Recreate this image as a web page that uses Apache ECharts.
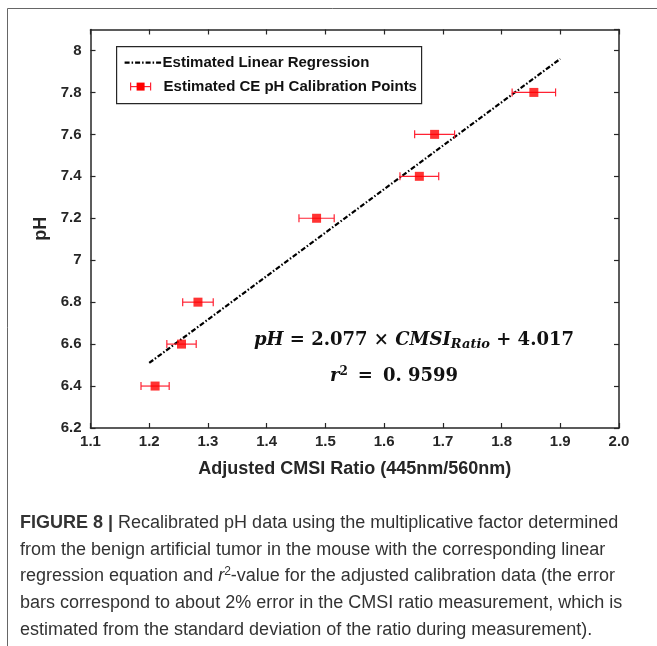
<!DOCTYPE html>
<html>
<head>
<meta charset="utf-8">
<script src="https://cdn.jsdelivr.net/npm/echarts@6/dist/echarts.min.js"></script>
<style>
  html, body { margin: 0; padding: 0; background: #fff; }
  #main { width: 657px; height: 646px; }
</style>
</head>
<body>
<div id="main"></div>
<script>
// 校准点数据
var ratioValues = [1.21, 1.255, 1.283, 1.485, 1.66, 1.686, 1.855];
var phValues = [6.4, 6.6, 6.8, 7.2, 7.4, 7.6, 7.8];
// 2% 误差
var ratioErrors = [0.024, 0.025, 0.026, 0.030, 0.033, 0.034, 0.037];
// 回归线端点
var lineX = [1.2, 1.9];
var lineY = [6.51, 7.96];

var captionLines = [
    'Recalibrated pH data using the multiplicative factor determined',
    'from the benign artificial tumor in the mouse with the corresponding linear',
    'regression equation and ',
    'bars correspond to about 2% error in the CMSI ratio measurement, which is',
    'estimated from the standard deviation of the ratio during measurement).'
];

(function () {
    var chart = echarts.init(document.getElementById('main'));
    var axisColor = '#262626';
    var red = '#ff0000';
    var capFont = '18px "Liberation Sans"';
    var eqFont = '"DejaVu Serif"';

    var pointData = [];
    var errData = [];
    ratioValues.forEach(function (v, i) {
        pointData.push([v, phValues[i]]);
        errData.push([v - ratioErrors[i], v + ratioErrors[i], phValues[i]]);
    });

    // 误差棒
    function renderErr(params, api) {
        var p1 = api.coord([api.value(0), api.value(2)]);
        var p2 = api.coord([api.value(1), api.value(2)]);
        var h = 4;
        var st = { stroke: '#f23', lineWidth: 1.2 };
        return {
            type: 'group',
            children: [
                { type: 'line', shape: { x1: p1[0], y1: p1[1], x2: p2[0], y2: p2[1] }, style: st },
                { type: 'line', shape: { x1: p1[0], y1: p1[1] - h, x2: p1[0], y2: p1[1] + h }, style: st },
                { type: 'line', shape: { x1: p2[0], y1: p2[1] - h, x2: p2[0], y2: p2[1] + h }, style: st }
            ]
        };
    }

    var labelFont = { color: axisColor, fontFamily: 'Liberation Sans', fontWeight: 'bold', fontSize: 15 };
    var nameFont = { color: axisColor, fontFamily: 'Liberation Sans', fontWeight: 'bold', fontSize: 18 };

    var option = {
        animation: false,
        backgroundColor: '#fff',
        grid: { left: 90.5, right: 38, top: 29.5, bottom: 218 },
        xAxis: [{
            type: 'value', min: 1.1, max: 2.0, interval: 0.1,
            position: 'bottom',
            name: 'Adjusted CMSI Ratio (445nm/560nm)',
            nameLocation: 'middle', nameGap: 32,
            nameTextStyle: nameFont,
            axisLine: { lineStyle: { color: axisColor, width: 1.5 } },
            axisTick: { inside: true, length: 5, lineStyle: { color: axisColor, width: 1.2 } },
            axisLabel: Object.assign({ margin: 6, formatter: function (v) { return v.toFixed(1); } }, labelFont),
            splitLine: { show: false }
        }, {
            type: 'value', min: 1.1, max: 2.0, interval: 0.1,
            position: 'top',
            axisLine: { lineStyle: { color: axisColor, width: 1.5 } },
            axisTick: { inside: true, length: 5, lineStyle: { color: axisColor, width: 1.2 } },
            axisLabel: { show: false },
            splitLine: { show: false }
        }],
        yAxis: [{
            type: 'value', min: 6.2, max: 8.1, interval: 0.2,
            position: 'left',
            name: 'pH', nameLocation: 'middle', nameGap: 40, nameRotate: 90,
            nameTextStyle: nameFont,
            axisLine: { lineStyle: { color: axisColor, width: 1.5 } },
            axisTick: { inside: true, length: 5, lineStyle: { color: axisColor, width: 1.2 } },
            axisLabel: Object.assign({ margin: 9, showMaxLabel: false }, labelFont),
            splitLine: { show: false }
        }, {
            type: 'value', min: 6.2, max: 8.1, interval: 0.2,
            position: 'right',
            axisLine: { lineStyle: { color: axisColor, width: 1.5 } },
            axisTick: { inside: true, length: 5, lineStyle: { color: axisColor, width: 1.2 } },
            axisLabel: { show: false },
            splitLine: { show: false }
        }],
        series: [{
            name: 'Estimated Linear Regression',
            type: 'line',
            data: [[lineX[0], lineY[0]], [lineX[1], lineY[1]]],
            symbol: 'none',
            lineStyle: { color: '#000', width: 2.2, type: [5, 2, 1.5, 2] },
            z: 2
        }, {
            name: 'err',
            type: 'custom',
            renderItem: renderErr,
            data: errData,
            encode: { x: [0, 1], y: 2 },
            z: 3
        }, {
            name: 'Estimated CE pH Calibration Points',
            type: 'scatter',
            data: pointData,
            symbol: 'rect',
            symbolSize: 9,
            itemStyle: { color: red },
            z: 4
        }],
        graphic: [
            // 外框
            { type: 'rect', shape: { x: 7.5, y: 8.5, width: 660, height: 660 }, style: { fill: 'none', stroke: '#666', lineWidth: 1 }, silent: true },
            // 图例
            {
                type: 'group', left: 116, top: 46,
                children: [
                    { type: 'rect', shape: { x: 0, y: 0, width: 305, height: 57 }, style: { fill: '#fff', stroke: axisColor, lineWidth: 1.2 } },
                    { type: 'line', shape: { x1: 8, y1: 16, x2: 45, y2: 16 }, style: { stroke: '#000', lineWidth: 2.2, lineDash: [5, 2, 1.5, 2] } },
                    { type: 'text', x: 46, y: 16, style: { text: 'Estimated Linear Regression', fill: '#111', font: 'bold 15px "Liberation Sans"', verticalAlign: 'middle' } },
                    { type: 'line', shape: { x1: 14, y1: 40, x2: 34, y2: 40 }, style: { stroke: '#f23', lineWidth: 1.2 } },
                    { type: 'line', shape: { x1: 14, y1: 36, x2: 14, y2: 44 }, style: { stroke: '#f23', lineWidth: 1.2 } },
                    { type: 'line', shape: { x1: 34, y1: 36, x2: 34, y2: 44 }, style: { stroke: '#f23', lineWidth: 1.2 } },
                    { type: 'rect', shape: { x: 20, y: 36, width: 8, height: 8 }, style: { fill: red } },
                    { type: 'text', x: 47, y: 40, style: { text: 'Estimated CE pH Calibration Points', fill: '#111', font: 'bold 15px "Liberation Sans"', verticalAlign: 'middle' } }
                ]
            },
            // 回归方程
            {
                type: 'text', x: 414, y: 340,
                style: {
                    text: '{i|pH} = 2.077 × {i|CMSI}{s|Ratio} + 4.017',
                    align: 'center', verticalAlign: 'middle',
                    font: 'bold 18px ' + eqFont, fill: '#111',
                    rich: {
                        i: { font: 'italic bold 18px ' + eqFont, fill: '#111' },
                        s: { font: 'italic bold 13px ' + eqFont, fill: '#111', padding: [9, 0, 0, 0] }
                    }
                }
            },
            {
                type: 'text', x: 394, y: 376,
                style: {
                    text: '{i|r}{p|2}{e|=}0. 9599',
                    align: 'center', verticalAlign: 'middle',
                    font: 'bold 18px ' + eqFont, fill: '#111',
                    rich: {
                        i: { font: 'italic bold 18px ' + eqFont, fill: '#111' },
                        p: { font: 'bold 12px ' + eqFont, fill: '#111', padding: [0, 0, 9, 0] },
                        e: { font: 'bold 18px ' + eqFont, fill: '#111', padding: [0, 10, 0, 10] }
                    }
                }
            },
            // 图注
            {
                type: 'text', x: 20, y: 523,
                style: {
                    text: '{b|FIGURE 8 |} ' + captionLines[0], font: capFont, fill: '#333', verticalAlign: 'middle',
                    rich: { b: { font: 'bold 18px "Liberation Sans"', fill: '#333' } }
                }
            },
            { type: 'text', x: 20, y: 550, style: { text: captionLines[1], font: capFont, fill: '#333', verticalAlign: 'middle' } },
            {
                type: 'text', x: 20, y: 576,
                style: {
                    text: captionLines[2] + '{i|r}{p|2}-value for the adjusted calibration data (the error',
                    font: capFont, fill: '#333', verticalAlign: 'middle',
                    rich: {
                        i: { font: 'italic 18px "Liberation Sans"', fill: '#333' },
                        p: { font: '12px "Liberation Sans"', fill: '#333', padding: [0, 0, 8, 0] }
                    }
                }
            },
            { type: 'text', x: 20, y: 603, style: { text: captionLines[3], font: capFont, fill: '#333', verticalAlign: 'middle' } },
            { type: 'text', x: 20, y: 630, style: { text: captionLines[4], font: capFont, fill: '#333', verticalAlign: 'middle' } }
        ]
    };
    chart.setOption(option);
})();
</script>
</body>
</html>
